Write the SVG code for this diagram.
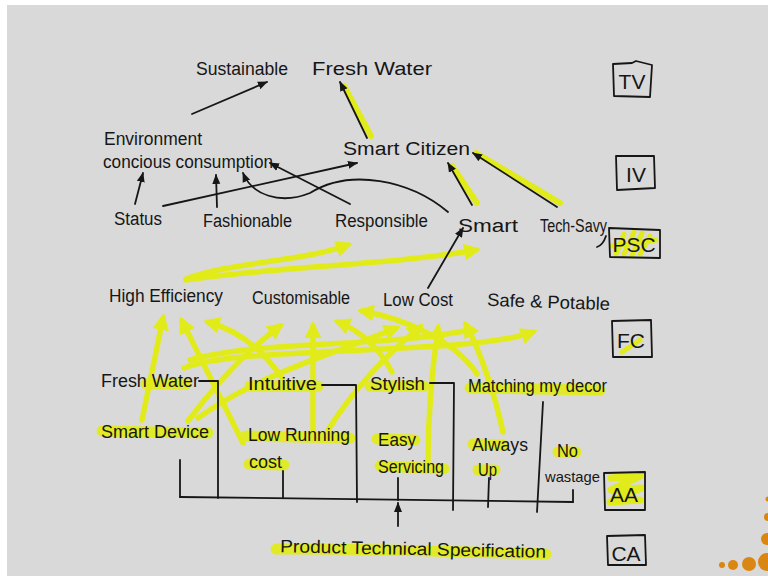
<svg xmlns="http://www.w3.org/2000/svg" width="768" height="576" viewBox="0 0 768 576">
  <style>
    .t { font-family: "Liberation Sans", "DejaVu Sans", sans-serif; font-size: 18px; fill: #161616; }
    .lbl { font-family: "Liberation Sans", "DejaVu Sans", sans-serif; font-size: 21px; fill: #161616; }
    .ink { fill: none; stroke: #161616; stroke-width: 1.8; stroke-linecap: round; stroke-linejoin: round; }
    .box { fill: none; stroke: #161616; stroke-width: 1.8; stroke-linejoin: round; }
    .hl { fill: none; stroke: #e2eb1a; stroke-width: 11; stroke-linecap: round; opacity: 0.92; }
    .glow { fill: none; stroke: #e2eb1a; stroke-width: 6; stroke-linecap: round; }
    .ya { fill: none; stroke: #e2eb1a; stroke-width: 5.5; stroke-linecap: round; stroke-linejoin: round; }
    .dot { fill: #d98612; }
  </style>
  <defs>
    <marker id="ah" viewBox="0 0 10 10" refX="9" refY="5" markerWidth="10" markerHeight="10" markerUnits="userSpaceOnUse" orient="auto">
      <path d="M0,1 L10,5 L0,9 z" fill="#161616"/>
    </marker>
    <marker id="yh" viewBox="0 0 10 10" refX="7" refY="5" markerWidth="17" markerHeight="17" markerUnits="userSpaceOnUse" orient="auto">
      <path d="M0,0 L10,5 L0,10 z" fill="#e2eb1a"/>
    </marker>
  </defs>

  <!-- board -->
  <rect x="0" y="0" width="768" height="576" fill="#ffffff"/>
  <rect x="7" y="5" width="761" height="571" fill="#d9d9d9"/>

  <!-- highlighter marks under labels -->
  <g id="highlights">
    <path class="hl" d="M276,549 C360,548 460,552 546,554" stroke-width="15"/>
    <path class="hl" d="M102,431 L208,433"/>
    <path class="hl" d="M246,436 L350,438"/>
    <path class="hl" d="M249,464 L284,465" stroke-width="9"/>
    <path class="hl" d="M377,439 L415,440" stroke-width="9"/>
    <path class="hl" d="M380,466 L444,469"/>
    <path class="hl" d="M473,444 L503,445" stroke-width="9"/>
    <path class="hl" d="M478,470 L495,470" stroke-width="9"/>
    <path class="hl" d="M558,452 L576,452" stroke-width="6"/>
    <path class="hl" d="M146,384 L186,384" stroke-width="7"/>
    <path class="hl" d="M250,386 L318,386" stroke-width="8"/>
    <path class="hl" d="M370,386 L424,386" stroke-width="8"/>
    <path class="hl" d="M470,388 L600,390" stroke-width="9"/>
  </g>

  <!-- level boxes -->
  <g id="box-tv">
    <path class="box" d="M613,64 L632,63 L636,61 L652,65 L650,97 L614,96 Z"/>
    <text class="lbl" x="632" y="89" text-anchor="middle">TV</text>
  </g>
  <g id="box-iv">
    <path class="box" d="M616,156 L654,156 L655,188 L617,190 Z"/>
    <text class="lbl" x="636" y="182" text-anchor="middle">IV</text>
  </g>
  <g id="box-psc">
    <path d="M616,254 L624,234 M624,254 L634,232 M632,255 L642,233 M640,254 L650,236 M612,246 L656,240" stroke="#e2eb1a" stroke-width="5" fill="none" stroke-linecap="round"/>
    <path class="box" d="M609,228 L660,230 L660,258 L610,257 Z"/>
    <text class="lbl" x="634" y="252" text-anchor="middle">PSC</text>
  </g>
  <g id="box-fc">
    <path d="M622,352 L640,340" stroke="#e2eb1a" stroke-width="5" fill="none" stroke-linecap="round"/>
    <path class="box" d="M612,321 L651,320 L652,357 L613,357 Z"/>
    <text class="lbl" x="631" y="348" text-anchor="middle">FC</text>
  </g>
  <g id="box-aa">
    <path d="M611,478 L640,476 L611,490 L641,488 L610,502 L640,500" stroke="#e2eb1a" stroke-width="7" fill="none" stroke-linecap="round" stroke-linejoin="round"/>
    <path class="box" d="M604,473 L645,472 L645,510 L605,510 Z"/>
    <text class="lbl" x="624" y="502" text-anchor="middle">AA</text>
  </g>
  <g id="box-ca">
    <path class="box" d="M607,536 L645,535 L646,565 L608,565 Z"/>
    <text class="lbl" x="626" y="561" text-anchor="middle">CA</text>
  </g>

  <!-- connectors -->
  <g id="connectors">
    <!-- yellow attribute-to-characteristic arrows -->
    <path class="ya" d="M142,420 L163,318" marker-end="url(#yh)"/>
    <path class="ya" d="M243,443 L182,321" marker-end="url(#yh)"/>
    <path class="ya" d="M282,378 Q252,334 208,322" marker-end="url(#yh)"/>
    <path class="ya" d="M188,421 Q232,362 280,326" marker-end="url(#yh)"/>
    <path class="ya" d="M313,432 L313,326" marker-end="url(#yh)"/>
    <path class="ya" d="M198,418 C262,372 340,352 396,328" marker-end="url(#yh)"/>
    <path class="ya" d="M328,430 C350,395 380,360 420,327" marker-end="url(#yh)"/>
    <path class="ya" d="M392,372 C378,346 358,330 338,322" marker-end="url(#yh)"/>
    <path class="ya" d="M477,374 C455,340 402,318 362,311" marker-end="url(#yh)"/>
    <path class="ya" d="M428,462 C428,420 432,370 438,328" marker-end="url(#yh)"/>
    <path class="ya" d="M503,432 C495,395 480,350 466,325" marker-end="url(#yh)"/>
    <path class="ya" d="M184,368 C240,345 470,356 533,332" marker-end="url(#yh)"/>
    <path class="ya" d="M190,360 C260,340 380,348 470,330"/>

    <!-- yellow arrows from High Efficiency up to Responsible and Smart -->
    <path class="ya" d="M186,279 C230,262 300,262 348,245" marker-end="url(#yh)"/>
    <path class="ya" d="M186,280 C260,268 400,264 476,250" marker-end="url(#yh)"/>

    <!-- highlighter glow along key black arrows -->
    <path class="glow" d="M371,136 L344,86"/>
    <path class="glow" d="M477,203 L452,166"/>
    <path class="glow" d="M560,203 L476,153"/>

    <!-- black arrows, upper levels -->
    <path class="ink" d="M192,114 L267,82" marker-end="url(#ah)"/>
    <path class="ink" d="M367,138 L340,82" marker-end="url(#ah)"/>
    <path class="ink" d="M135,204 L143,173" marker-end="url(#ah)"/>
    <path class="ink" d="M217,207 L216,175" marker-end="url(#ah)"/>
    <path class="ink" d="M163,206 L357,163" marker-end="url(#ah)"/>
    <path class="ink" d="M350,204 L270,163" marker-end="url(#ah)"/>
    <path class="ink" d="M448,212 C410,180 350,168 310,193 C280,205 252,195 243,173" marker-end="url(#ah)"/>
    <path class="ink" d="M472,205 L448,163" marker-end="url(#ah)"/>
    <path class="ink" d="M557,207 L473,153" marker-end="url(#ah)"/>
    <path class="ink" d="M428,288 L463,228" marker-end="url(#ah)"/>

    <!-- bracket tree joining the attributes -->
    <path class="ink" d="M180,460 L180,497"/>
    <path class="ink" d="M199,381 L218,381 L218,498"/>
    <path class="ink" d="M283,471 L283,498"/>
    <path class="ink" d="M322,385 L356,385 L357,502"/>
    <path class="ink" d="M398,478 L398,500"/>
    <path class="ink" d="M430,383 L454,383 L453,510"/>
    <path class="ink" d="M489,478 L488,507"/>
    <path class="ink" d="M543,402 L537,512"/>
    <path class="ink" d="M573,490 L573,502"/>
    <path class="ink" d="M180,497 L573,502"/>
    <path class="ink" d="M398,526 L398,503" marker-end="url(#ah)"/>
  </g>

  <!-- terminal values -->
  <g id="node-sustainable"><text class="t" x="196" y="75" textLength="92" lengthAdjust="spacingAndGlyphs">Sustainable</text></g>
  <g id="node-fresh-water"><text class="t" x="312" y="75" textLength="120" lengthAdjust="spacingAndGlyphs">Fresh Water</text></g>

  <!-- instrumental values -->
  <g id="node-environment">
    <text class="t" x="104" y="145" textLength="98" lengthAdjust="spacingAndGlyphs">Environment</text>
    <text class="t" x="103" y="168" textLength="170" lengthAdjust="spacingAndGlyphs">concious consumption</text>
  </g>
  <g id="node-smart-citizen"><text class="t" x="343" y="155" textLength="127" lengthAdjust="spacingAndGlyphs">Smart Citizen</text></g>

  <!-- psycho-social consequences -->
  <g id="node-status"><text class="t" x="114" y="225" textLength="48" lengthAdjust="spacingAndGlyphs">Status</text></g>
  <g id="node-fashionable"><text class="t" x="203" y="227" textLength="89" lengthAdjust="spacingAndGlyphs">Fashionable</text></g>
  <g id="node-responsible"><text class="t" x="335" y="227" textLength="93" lengthAdjust="spacingAndGlyphs">Responsible</text></g>
  <g id="node-smart"><text class="t" x="458" y="232" textLength="60" lengthAdjust="spacingAndGlyphs">Smart</text></g>
  <g id="node-tech-savy">
    <text class="t" x="540" y="232" textLength="67" lengthAdjust="spacingAndGlyphs">Tech-Savy</text>
    <path class="ink" d="M606,236 C604,242 600,246 597,247" stroke-width="1.4"/>
  </g>

  <!-- functional consequences -->
  <g id="node-high-efficiency"><text class="t" x="109" y="302" textLength="114" lengthAdjust="spacingAndGlyphs">High Efficiency</text></g>
  <g id="node-customisable"><text class="t" x="252" y="304" textLength="98" lengthAdjust="spacingAndGlyphs">Customisable</text></g>
  <g id="node-low-cost"><text class="t" x="383" y="306" textLength="70" lengthAdjust="spacingAndGlyphs">Low Cost</text></g>
  <g id="node-safe-potable"><text class="t" x="487" y="308" textLength="123" lengthAdjust="spacingAndGlyphs" transform="rotate(2 548 304)">Safe &amp; Potable</text></g>

  <!-- attributes -->
  <g id="node-fresh-water-aa"><text class="t" x="101" y="387" textLength="98" lengthAdjust="spacingAndGlyphs">Fresh Water</text></g>
  <g id="node-intuitive"><text class="t" x="248" y="390" textLength="69" lengthAdjust="spacingAndGlyphs">Intuitive</text></g>
  <g id="node-stylish"><text class="t" x="370" y="390" textLength="55" lengthAdjust="spacingAndGlyphs">Stylish</text></g>
  <g id="node-matching"><text class="t" x="468" y="392" textLength="139" lengthAdjust="spacingAndGlyphs">Matching my decor</text></g>
  <g id="node-smart-device"><text class="t" x="101" y="438" textLength="108" lengthAdjust="spacingAndGlyphs">Smart Device</text></g>
  <g id="node-low-running-cost">
    <text class="t" x="248" y="441" textLength="102" lengthAdjust="spacingAndGlyphs">Low Running</text>
    <text class="t" x="249" y="468" textLength="33" lengthAdjust="spacingAndGlyphs">cost</text>
  </g>
  <g id="node-easy-servicing">
    <text class="t" x="378" y="446" textLength="38" lengthAdjust="spacingAndGlyphs">Easy</text>
    <text class="t" x="378" y="473" textLength="66" lengthAdjust="spacingAndGlyphs">Servicing</text>
  </g>
  <g id="node-always-up">
    <text class="t" x="472" y="451" textLength="56" lengthAdjust="spacingAndGlyphs">Always</text>
    <text class="t" x="478" y="476" textLength="19" lengthAdjust="spacingAndGlyphs">Up</text>
  </g>
  <g id="node-no-wastage">
    <text class="t" x="557" y="457" textLength="21" lengthAdjust="spacingAndGlyphs">No</text>
    <text class="t" x="545" y="482" textLength="55" lengthAdjust="spacingAndGlyphs" style="font-size:15px">wastage</text>
  </g>

  <!-- concrete attribute -->
  <g id="node-product-spec"><text class="t" x="280" y="555" textLength="266" lengthAdjust="spacingAndGlyphs" transform="rotate(1.2 413 552)">Product Technical Specification</text></g>

  <!-- corner ornament -->
  <g id="ornament">
    <circle class="dot" cx="722" cy="565" r="3"/>
    <circle class="dot" cx="733" cy="565" r="5"/>
    <circle class="dot" cx="749" cy="564" r="7"/>
    <circle class="dot" cx="767" cy="562" r="9"/>
    <circle class="dot" cx="767" cy="539" r="6"/>
    <circle class="dot" cx="768" cy="517" r="4"/>
    <circle class="dot" cx="768" cy="499" r="2.5"/>
  </g>
</svg>
